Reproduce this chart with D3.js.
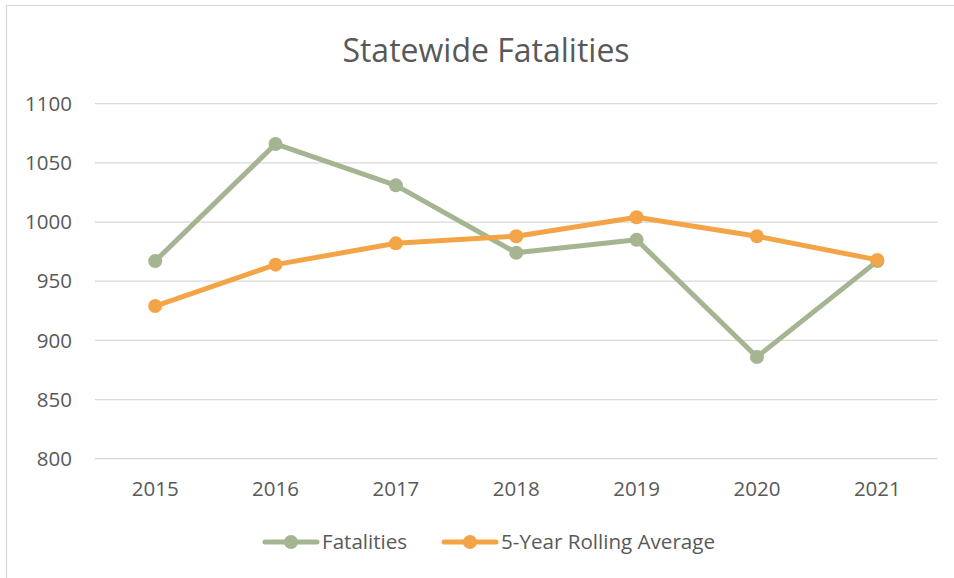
<!DOCTYPE html>
<html>
<head>
<meta charset="utf-8">
<script src="https://cdn.jsdelivr.net/npm/d3@7"></script>
<style>
  body { margin: 0; background: #fff; }
  text { font-family: "Open Sans", "Noto Sans", sans-serif; fill: #595959; }
</style>
</head>
<body>
<script>
// chart data
var years = ["2015", "2016", "2017", "2018", "2019", "2020", "2021"];
var fatalities = [967, 1066, 1031, 974, 985, 886, 967];
var rollingAvg = [929, 964, 982, 988, 1004, 988, 968];
var yTicks = [800, 850, 900, 950, 1000, 1050, 1100];
var seriesNames = ["Fatalities", "5-Year Rolling Average"];
var seriesColors = ["#a5b592", "#f3a447"];

var width = 954, height = 578;

var svg = d3.select("body").append("svg")
  .attr("width", width)
  .attr("height", height);

// outer chart border
svg.append("rect")
  .attr("x", 6.5).attr("y", 5.5)
  .attr("width", 960).attr("height", 600)
  .attr("fill", "none")
  .attr("stroke", "#d9d9d9")
  .attr("stroke-width", 1.3);

var x = d3.scaleBand().domain(years).range([95, 937.5]).paddingInner(0).paddingOuter(0);
var y = d3.scaleLinear().domain([800, 1100]).range([458.7, 103.7]);
var cx = function(d) { return x(d) + x.bandwidth() / 2; };

// gridlines
svg.selectAll("line.grid")
  .data(yTicks)
  .enter().append("line")
  .attr("class", "grid")
  .attr("x1", 95).attr("x2", 937.5)
  .attr("y1", function(d) { return y(d); })
  .attr("y2", function(d) { return y(d); })
  .attr("stroke", "#d9d9d9")
  .attr("stroke-width", 1.3);

// y labels
svg.selectAll("text.ylab")
  .data(yTicks)
  .enter().append("text")
  .attr("class", "ylab")
  .attr("x", 72)
  .attr("y", function(d) { return y(d); })
  .attr("dy", "0.35em")
  .attr("text-anchor", "end")
  .style("font-size", "20.5px")
  .text(function(d) { return d; });

// x labels
svg.selectAll("text.xlab")
  .data(years)
  .enter().append("text")
  .attr("class", "xlab")
  .attr("x", cx)
  .attr("y", 489)
  .attr("dy", "0.35em")
  .attr("text-anchor", "middle")
  .style("font-size", "20.5px")
  .text(function(d) { return d; });

// title
svg.append("text")
  .attr("x", 486)
  .attr("y", 62)
  .attr("text-anchor", "middle")
  .style("font-size", "32px")
  .text("Statewide Fatalities");

// lines + markers (rolling average drawn on top)
var allSeries = [fatalities, rollingAvg];
var line = d3.line()
  .x(function(d, i) { return cx(years[i]); })
  .y(function(d) { return y(d); });

allSeries.forEach(function(vals, s) {
  svg.append("path")
    .datum(vals)
    .attr("d", line)
    .attr("fill", "none")
    .attr("stroke", seriesColors[s])
    .attr("stroke-width", 5)
    .attr("stroke-linejoin", "round")
    .attr("stroke-linecap", "round");
  svg.selectAll("circle.s" + s)
    .data(vals)
    .enter().append("circle")
    .attr("class", "s" + s)
    .attr("cx", function(d, i) { return cx(years[i]); })
    .attr("cy", function(d) { return y(d); })
    .attr("r", 7)
    .attr("fill", seriesColors[s]);
});

// legend
var legendX = [263, 442];
var leg = svg.selectAll("g.leg")
  .data(seriesNames)
  .enter().append("g")
  .attr("class", "leg")
  .attr("transform", function(d, i) { return "translate(" + legendX[i] + ",542)"; });
leg.append("line")
  .attr("x1", 2).attr("x2", 54)
  .attr("stroke", function(d, i) { return seriesColors[i]; })
  .attr("stroke-width", 5)
  .attr("stroke-linecap", "round");
leg.append("circle")
  .attr("cx", 28).attr("r", 7)
  .attr("fill", function(d, i) { return seriesColors[i]; });
leg.append("text")
  .attr("x", 59)
  .attr("dy", "0.35em")
  .style("font-size", "20.6px")
  .text(function(d) { return d; });
</script>
</body>
</html>
